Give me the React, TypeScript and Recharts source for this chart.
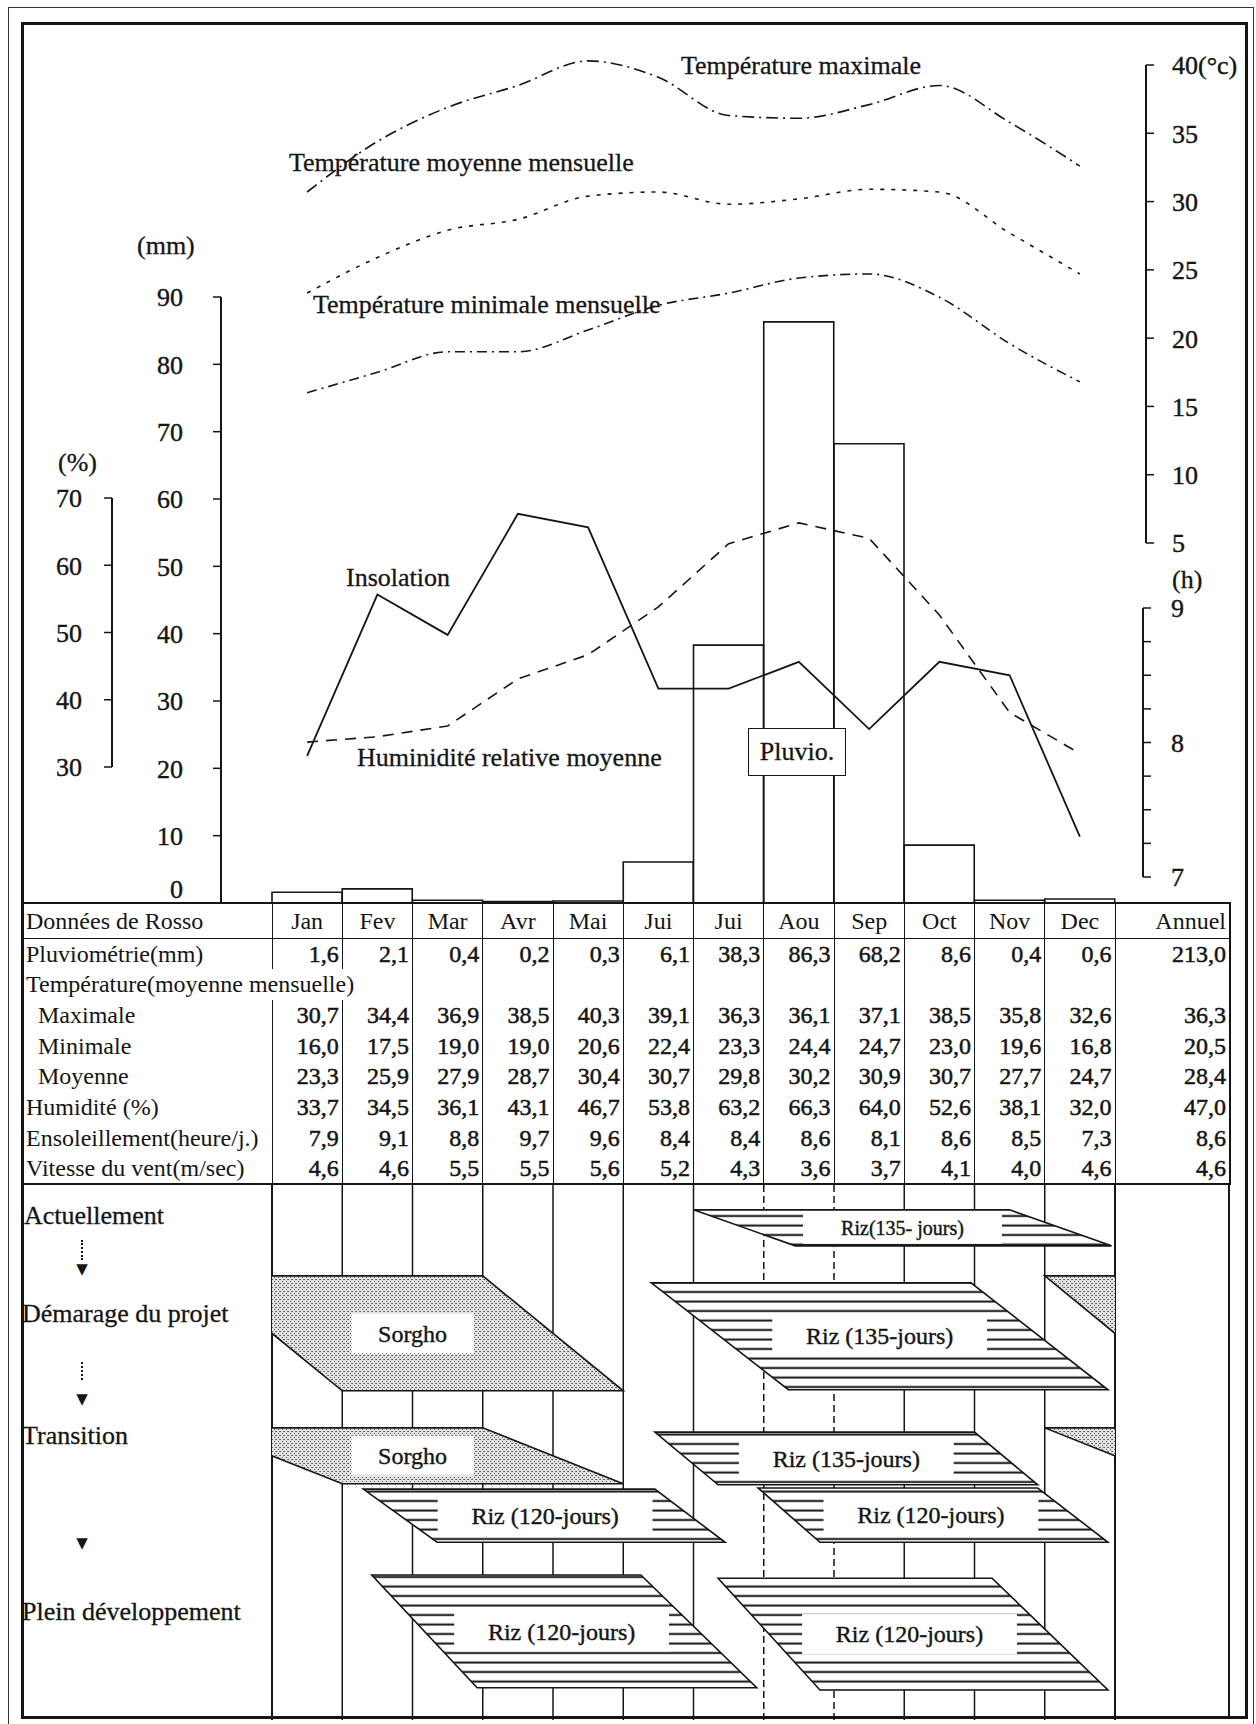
import React from "react";
import {
  Bar,
  ComposedChart,
  Line,
  ReferenceArea,
  ReferenceLine,
  XAxis,
  YAxis,
} from "recharts";

const FONT = '"Liberation Serif", "Times New Roman", serif';
const INK = "#151515";

// ---- Données de Rosso ----
const months = ["Jan", "Fev", "Mar", "Avr", "Mai", "Jui", "Jui", "Aou", "Sep", "Oct", "Nov", "Dec"];
const pluviometrie = [1.6, 2.1, 0.4, 0.2, 0.3, 6.1, 38.3, 86.3, 68.2, 8.6, 0.4, 0.6];
const tempMaximale = [30.7, 34.4, 36.9, 38.5, 40.3, 39.1, 36.3, 36.1, 37.1, 38.5, 35.8, 32.6];
const tempMinimale = [16.0, 17.5, 19.0, 19.0, 20.6, 22.4, 23.3, 24.4, 24.7, 23.0, 19.6, 16.8];
const tempMoyenne = [23.3, 25.9, 27.9, 28.7, 30.4, 30.7, 29.8, 30.2, 30.9, 30.7, 27.7, 24.7];
const humidite = [33.7, 34.5, 36.1, 43.1, 46.7, 53.8, 63.2, 66.3, 64.0, 52.6, 38.1, 32.0];
const ensoleillement = [7.9, 9.1, 8.8, 9.7, 9.6, 8.4, 8.4, 8.6, 8.1, 8.6, 8.5, 7.3];
const vitesseVent = [4.6, 4.6, 5.5, 5.5, 5.6, 5.2, 4.3, 3.6, 3.7, 4.1, 4.0, 4.6];
// annual column, same order as the table rows below
const annuel = [213.0, 36.3, 20.5, 28.4, 47.0, 8.6, 4.6];

const mmTicks = [0, 10, 20, 30, 40, 50, 60, 70, 80, 90];
const pctTicks = [30, 40, 50, 60, 70];
const tempTicks = [5, 10, 15, 20, 25, 30, 35, 40];
const hourTicks = [7, 7.25, 7.5, 7.75, 8, 8.25, 8.5, 8.75, 9];

// crop calendar: x in months from 1 Jan (0) to 31 Dec (12), y in % of the calendar height
const monthEdges = [0, 1, 2, 3, 4, 5, 6, 7, 8, 9, 10, 11, 12];
const cropBands = [
  { label: "Riz(135- jours)", crop: "riz", top: 5, bottom: 11.7, topFrom: 6.0, topTo: 10.5, botFrom: 7.45, botTo: 11.95 },
  { label: "Sorgho", crop: "sorgho", top: 17.3, bottom: 38.7, topFrom: -1, topTo: 3, botFrom: 1, botTo: 5 },
  { label: "Riz (135-jours)", crop: "riz", top: 18.6, bottom: 38.5, topFrom: 5.4, topTo: 9.95, botFrom: 7.35, botTo: 11.9 },
  { label: "Sorgho", crop: "sorgho", top: 45.6, bottom: 56.0, topFrom: -1, topTo: 3, botFrom: 1, botTo: 5 },
  { label: "Riz (135-jours)", crop: "riz", top: 46.4, bottom: 56.2, topFrom: 5.45, topTo: 10.0, botFrom: 6.35, botTo: 10.9 },
  { label: "Riz (120-jours)", crop: "riz", top: 57.0, bottom: 66.9, topFrom: 1.3, topTo: 5.45, botFrom: 2.35, botTo: 6.45 },
  { label: "Riz (120-jours)", crop: "riz", top: 56.8, bottom: 66.9, topFrom: 6.92, topTo: 10.9, botFrom: 7.8, botTo: 11.9 },
  { label: "Riz (120-jours)", crop: "riz", top: 73.0, bottom: 94.0, topFrom: 1.42, topTo: 5.25, botFrom: 2.92, botTo: 6.9 },
  { label: "Riz (120-jours)", crop: "riz", top: 73.6, bottom: 94.4, topFrom: 6.35, topTo: 10.25, botFrom: 7.8, botTo: 11.9 },
];

const chartData = months.map((m, i) => ({
  key: `${m}-${i}`,
  pluvio: pluviometrie[i],
  tmax: tempMaximale[i],
  tmin: tempMinimale[i],
  tmoy: tempMoyenne[i],
  hum: humidite[i],
  sol: ensoleillement[i],
}));

// ---- layout ----
const W = 1256;
const H = 1724;
const PLOT_L = 272;
const PLOT_R = 1115;
const TABLE_R = 1230;
const BASE_Y = 903;
const TOP_Y = 30;
const CAL_TOP = 1183;
const CAL_H = 537;
const AXW = 90;

// where each printed axis sits on the page
const MM_AXIS = { x: 221, v0: 0, y0: 903, v1: 90, y1: 297 };
const PCT_AXIS = { x: 112, v0: 30, y0: 767, v1: 70, y1: 498 };
const TEMP_AXIS = { x: 1146, v0: 5, y0: 543, v1: 40, y1: 65 };
const HOUR_AXIS = { x: 1143, v0: 7, y0: 877, v1: 9, y1: 608 };

// domain of a hidden axis spanning the whole plot, keeping the printed axis scale
const fitDomain = (a: any): [number, number] => {
  const k = (a.v1 - a.v0) / (a.y1 - a.y0);
  return [a.v0 + (BASE_Y - a.y0) * k, a.v0 + (TOP_Y - a.y0) * k];
};

const fmt = (v: number) => v.toFixed(1).replace(".", ",");

const makeTick = (label: (v: number) => string, lift = (_v: number) => 0) => (p: any) => {
  const v = p.payload.value;
  const txt = label(v);
  if (!txt) return <g />;
  return (
    <text
      x={p.x}
      y={p.y - lift(v)}
      dy="0.36em"
      textAnchor={p.textAnchor}
      fontFamily={FONT}
      fontSize={26}
      fill={INK}
      stroke={INK}
      strokeWidth={0.4}
    >
      {txt}
    </text>
  );
};

function AxisChart({ axis, side, ticks, dataKey, tick, tickMargin }: any) {
  const margin =
    side === "left"
      ? { top: axis.y1, bottom: BASE_Y - axis.y0, left: axis.x - AXW, right: W - PLOT_R }
      : { top: axis.y1, bottom: BASE_Y - axis.y0, left: PLOT_L, right: W - axis.x - AXW };
  return (
    <div style={{ position: "absolute", left: 0, top: 0 }}>
      <ComposedChart width={W} height={BASE_Y} data={chartData} margin={margin}>
        <XAxis dataKey="key" hide />
        <YAxis
          yAxisId="a"
          orientation={side}
          width={AXW}
          domain={[axis.v0, axis.v1]}
          ticks={ticks}
          interval={0}
          allowDataOverflow
          tickSize={8}
          tickMargin={tickMargin}
          axisLine={{ stroke: INK, strokeWidth: 2 }}
          tickLine={{ stroke: INK, strokeWidth: 1.5 }}
          tick={tick}
        />
        <Line yAxisId="a" dataKey={dataKey} stroke="none" dot={false} activeDot={false} isAnimationActive={false} />
      </ComposedChart>
    </div>
  );
}

function SeriesChart() {
  return (
    <div style={{ position: "absolute", left: 0, top: 0 }}>
      <ComposedChart
        width={W}
        height={BASE_Y}
        data={chartData}
        margin={{ top: TOP_Y, bottom: 0, left: PLOT_L, right: W - PLOT_R }}
        barCategoryGap={0}
        barGap={0}
      >
        <XAxis dataKey="key" hide />
        <YAxis yAxisId="mm" hide domain={fitDomain(MM_AXIS)} allowDataOverflow />
        <YAxis yAxisId="pct" hide domain={fitDomain(PCT_AXIS)} allowDataOverflow />
        <YAxis yAxisId="temp" hide domain={fitDomain(TEMP_AXIS)} allowDataOverflow />
        <YAxis yAxisId="h" hide domain={fitDomain(HOUR_AXIS)} allowDataOverflow />
        <Bar yAxisId="mm" dataKey="pluvio" fill="none" stroke={INK} strokeWidth={1.6} isAnimationActive={false} />
        <Line yAxisId="temp" type="monotone" dataKey="tmax" stroke={INK} strokeWidth={1.6} strokeDasharray="12 5 2 5" dot={false} activeDot={false} isAnimationActive={false} />
        <Line yAxisId="temp" type="monotone" dataKey="tmoy" stroke={INK} strokeWidth={1.6} strokeDasharray="4 7" dot={false} activeDot={false} isAnimationActive={false} />
        <Line yAxisId="temp" type="monotone" dataKey="tmin" stroke={INK} strokeWidth={1.6} strokeDasharray="10 5 2 5" dot={false} activeDot={false} isAnimationActive={false} />
        <Line yAxisId="pct" type="linear" dataKey="hum" stroke={INK} strokeWidth={1.6} strokeDasharray="11 8" dot={false} activeDot={false} isAnimationActive={false} />
        <Line yAxisId="h" type="linear" dataKey="sol" stroke={INK} strokeWidth={1.8} dot={false} activeDot={false} isAnimationActive={false} />
      </ComposedChart>
    </div>
  );
}

const Note = ({ x, cy, size = 26, children, style }: any) => (
  <div
    style={{
      position: "absolute",
      left: x,
      top: cy - size / 2,
      fontSize: size,
      lineHeight: `${size}px`,
      whiteSpace: "nowrap",
      color: INK,
      WebkitTextStroke: `0.3px ${INK}`,
      ...style,
    }}
  >
    {children}
  </div>
);

function ClimateTable() {
  const rows = [
    { label: "Pluviométrie(mm)", values: pluviometrie, total: annuel[0] },
    { label: "Température(moyenne mensuelle)", section: true },
    { label: "Maximale", values: tempMaximale, total: annuel[1], indent: true },
    { label: "Minimale", values: tempMinimale, total: annuel[2], indent: true },
    { label: "Moyenne", values: tempMoyenne, total: annuel[3], indent: true },
    { label: "Humidité (%)", values: humidite, total: annuel[4] },
    { label: "Ensoleillement(heure/j.)", values: ensoleillement, total: annuel[5] },
    { label: "Vitesse du vent(m/sec)", values: vitesseVent, total: annuel[6] },
  ];
  const cell: any = { padding: "0 3px", fontSize: 24, lineHeight: "24px", whiteSpace: "nowrap", overflow: "visible" };
  const num: any = { ...cell, textAlign: "right", WebkitTextStroke: `0.5px ${INK}` };
  const sep = `1.5px solid ${INK}`;
  return (
    <table
      style={{
        position: "absolute",
        left: 22,
        top: BASE_Y - 1,
        width: TABLE_R - 22,
        tableLayout: "fixed",
        borderCollapse: "collapse",
        fontFamily: FONT,
        color: INK,
      }}
    >
      <colgroup>
        <col style={{ width: PLOT_L - 22 }} />
        {months.map((_, i) => (
          <col key={i} style={{ width: (PLOT_R - PLOT_L) / 12 }} />
        ))}
        <col style={{ width: TABLE_R - PLOT_R }} />
      </colgroup>
      <tbody>
        <tr style={{ height: 35, borderTop: `2px solid ${INK}`, borderBottom: sep }}>
          <td style={{ ...cell, paddingLeft: 4 }}>Données de Rosso</td>
          {months.map((m, i) => (
            <td key={i} style={{ ...cell, textAlign: "center", borderLeft: sep }}>
              {m}
            </td>
          ))}
          <td style={{ ...cell, textAlign: "right", borderLeft: sep, borderRight: `2px solid ${INK}` }}>Annuel</td>
        </tr>
        {rows.map((r: any, ri) =>
          r.section ? (
            <tr key={ri} style={{ height: 30.75 }}>
              <td colSpan={3} style={{ ...cell, paddingLeft: 4 }}>
                {r.label}
              </td>
              {months.slice(2).map((_, i) => (
                <td key={i} style={{ ...cell, borderLeft: sep }} />
              ))}
              <td style={{ ...cell, borderLeft: sep, borderRight: `2px solid ${INK}` }} />
            </tr>
          ) : (
            <tr key={ri} style={{ height: 30.75, borderBottom: ri === rows.length - 1 ? `2px solid ${INK}` : undefined }}>
              <td style={{ ...cell, paddingLeft: r.indent ? 16 : 4 }}>{r.label}</td>
              {r.values.map((v: number, i: number) => (
                <td key={i} style={{ ...num, borderLeft: sep }}>
                  {fmt(v)}
                </td>
              ))}
              <td style={{ ...num, borderLeft: sep, borderRight: `2px solid ${INK}` }}>{fmt(r.total)}</td>
            </tr>
          )
        )}
      </tbody>
    </table>
  );
}

function CropBand(props: any) {
  const { x, y, width, height, band, shift, id } = props;
  if (x == null || y == null || !width) return <g />;
  const tf = band.topFrom + shift;
  const tt = band.topTo + shift;
  const bf = band.botFrom + shift;
  const bt = band.botTo + shift;
  const lo = Math.min(tf, bf);
  const hi = Math.max(tt, bt);
  const px = (m: number) => x + ((m - lo) / (hi - lo)) * width;
  const x0 = px(0);
  const x12 = px(12);
  const pts = `${px(tf)},${y} ${px(tt)},${y} ${px(bt)},${y + height} ${px(bf)},${y + height}`;
  const fill = band.crop === "riz" ? "url(#rizHatch)" : "url(#sorghoDots)";
  const small = band.bottom - band.top < 8;
  const fs = small ? 20 : 24;
  const cx = (px(tf) + px(tt) + px(bf) + px(bt)) / 4;
  const cy = y + height / 2;
  const bw = band.label.length * fs * 0.43 + (small ? 70 : 60);
  const bh = small ? height - 4 : 40;
  return (
    <g>
      <defs>
        <clipPath id={id}>
          <rect x={x0} y={y - 3} width={x12 - x0} height={height + 6} />
        </clipPath>
      </defs>
      <g clipPath={`url(#${id})`}>
        <polygon points={pts} fill={fill} stroke={INK} strokeWidth={1.6} strokeLinejoin="miter" />
        {shift === 0 && (
          <g>
            <rect x={cx - bw / 2} y={cy - bh / 2} width={bw} height={bh} fill="#fff" />
            <text
              x={cx}
              y={cy}
              dy="0.34em"
              textAnchor="middle"
              fontFamily={FONT}
              fontSize={fs}
              fill={INK}
              stroke={INK}
              strokeWidth={0.4}
            >
              {band.label}
            </text>
          </g>
        )}
      </g>
    </g>
  );
}

function CalendarGrid() {
  return (
    <div style={{ position: "absolute", left: 0, top: CAL_TOP }}>
      <ComposedChart width={W} height={CAL_H} margin={{ top: 0, bottom: 0, left: PLOT_L, right: W - PLOT_R }}>
        <XAxis type="number" dataKey="m" domain={[0, 12]} hide allowDataOverflow />
        <YAxis type="number" domain={[0, 100]} reversed hide allowDataOverflow />
        {monthEdges.map((m) => (
          <ReferenceLine
            key={m}
            x={m}
            stroke={INK}
            strokeWidth={m === 0 || m === 12 ? 2 : 1.5}
            strokeDasharray={m === 7 || m === 8 ? "7 4" : undefined}
            ifOverflow="visible"
          />
        ))}
      </ComposedChart>
    </div>
  );
}

function CalendarBands() {
  const items: any[] = [];
  cropBands.forEach((b, i) => {
    items.push({ b, shift: 0, id: `crop-${i}` });
    // a crop sown in December shows again at the end of the year
    if (b.topFrom < 0) items.push({ b, shift: 12, id: `crop-${i}-wrap` });
  });
  return (
    <div style={{ position: "absolute", left: 0, top: CAL_TOP }}>
      <ComposedChart width={W} height={CAL_H} margin={{ top: 0, bottom: 0, left: PLOT_L, right: W - PLOT_R }}>
        <XAxis type="number" dataKey="m" domain={[0, 12]} hide allowDataOverflow />
        <YAxis type="number" domain={[0, 100]} reversed hide allowDataOverflow />
        {items.map((it) => (
          <ReferenceArea
            key={it.id}
            x1={Math.min(it.b.topFrom, it.b.botFrom) + it.shift}
            x2={Math.max(it.b.topTo, it.b.botTo) + it.shift}
            y1={it.b.top}
            y2={it.b.bottom}
            ifOverflow="visible"
            shape={(p: any) => <CropBand {...p} band={it.b} shift={it.shift} id={it.id} />}
          />
        ))}
      </ComposedChart>
    </div>
  );
}

const Arrow = ({ x, cy }: any) => (
  <div
    style={{
      position: "absolute",
      left: x - 8,
      top: cy - 8,
      width: 16,
      fontSize: 15,
      lineHeight: "16px",
      textAlign: "center",
      fontFamily: '"DejaVu Sans", sans-serif',
      color: INK,
    }}
  >
    ▼
  </div>
);

export default function App() {
  return (
    <div
      style={{
        position: "absolute",
        left: 0,
        top: 0,
        width: W,
        height: H,
        background: "#fff",
        fontFamily: FONT,
        color: INK,
        overflow: "hidden",
      }}
    >
      <svg width={0} height={0} style={{ position: "absolute" }}>
        <defs>
          <pattern id="rizHatch" patternUnits="userSpaceOnUse" width={10} height={9.5}>
            <rect width={10} height={9.5} fill="#fff" />
            <rect y={3.5} width={10} height={2} fill={INK} />
          </pattern>
          <pattern id="sorghoDots" patternUnits="userSpaceOnUse" width={4} height={4}>
            <rect width={4} height={4} fill="#e2e2e2" />
            <rect x={0} y={0} width={1} height={1} fill="#555" />
            <rect x={2} y={2} width={1} height={1} fill="#555" />
            <rect x={3} y={0} width={1} height={1} fill="#777" />
          </pattern>
        </defs>
      </svg>

      {/* double frame */}
      <div
        style={{
          position: "absolute",
          left: 8,
          top: 7,
          width: 1254 - 8,
          height: 1730,
          borderLeft: "1.5px solid #333",
          borderTop: "1.5px solid #333",
          borderRight: "1.5px solid #333",
          boxSizing: "border-box",
        }}
      />
      <div
        style={{
          position: "absolute",
          left: 21,
          top: 22,
          width: 1248 - 21,
          height: 1719 - 22,
          border: `3px solid ${INK}`,
          boxSizing: "border-box",
        }}
      />
      {/* right edge of the table, carried down through the calendar */}
      <div
        style={{
          position: "absolute",
          left: TABLE_R - 2,
          top: CAL_TOP,
          width: 0,
          height: 1718 - CAL_TOP,
          borderLeft: `2px solid ${INK}`,
        }}
      />

      <SeriesChart />
      <AxisChart
        axis={MM_AXIS}
        side="left"
        ticks={mmTicks}
        dataKey="pluvio"
        tickMargin={30}
        tick={makeTick((v) => `${v}`, (v) => (v === 0 ? 14 : 0))}
      />
      <AxisChart axis={PCT_AXIS} side="left" ticks={pctTicks} dataKey="hum" tickMargin={22} tick={makeTick((v) => `${v}`)} />
      <AxisChart
        axis={TEMP_AXIS}
        side="right"
        ticks={tempTicks}
        dataKey="tmax"
        tickMargin={18}
        tick={makeTick((v) => (v === 40 ? "40(°c)" : `${v}`))}
      />
      <AxisChart
        axis={HOUR_AXIS}
        side="right"
        ticks={hourTicks}
        dataKey="sol"
        tickMargin={20}
        tick={makeTick((v) => (Number.isInteger(v) ? `${v}` : ""))}
      />

      <Note x={681} cy={66}>Température maximale</Note>
      <Note x={289} cy={163}>Température moyenne mensuelle</Note>
      <Note x={313} cy={305}>Température minimale mensuelle</Note>
      <Note x={346} cy={578}>Insolation</Note>
      <Note x={357} cy={758}>Huminidité relative moyenne</Note>
      <Note x={137} cy={246}>(mm)</Note>
      <Note x={58} cy={463}>(%)</Note>
      <Note x={1172} cy={580}>(h)</Note>
      <div
        style={{
          position: "absolute",
          left: 748,
          top: 728,
          width: 98,
          height: 48,
          border: `1.5px solid ${INK}`,
          background: "#fff",
          boxSizing: "border-box",
          fontSize: 26,
          lineHeight: "45px",
          textAlign: "center",
          WebkitTextStroke: `0.3px ${INK}`,
        }}
      >
        Pluvio.
      </div>

      <ClimateTable />
      <CalendarGrid />
      <CalendarBands />

      <Note x={24} cy={1216}>Actuellement</Note>
      <div style={{ position: "absolute", left: 81, top: 1240, height: 20, borderLeft: `2px dotted ${INK}` }} />
      <Arrow x={82} cy={1269} />
      <Note x={22} cy={1314}>Démarage du projet</Note>
      <div style={{ position: "absolute", left: 81, top: 1362, height: 18, borderLeft: `2px dotted ${INK}` }} />
      <Arrow x={82} cy={1399} />
      <Note x={22} cy={1436}>Transition</Note>
      <Arrow x={82} cy={1543} />
      <Note x={22} cy={1612}>Plein développement</Note>
    </div>
  );
}
